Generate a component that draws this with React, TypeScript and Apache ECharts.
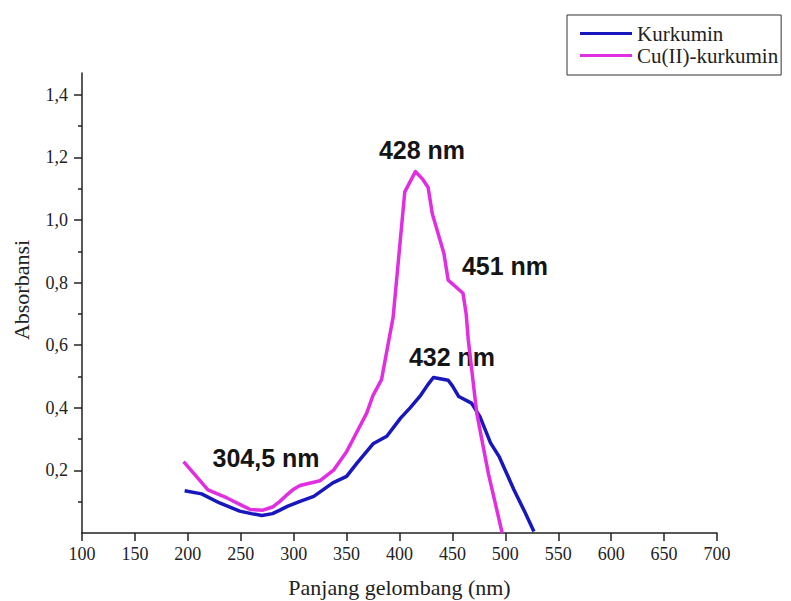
import React, { useEffect, useRef } from "react";
import * as echarts from "echarts";

const seriesNames = ["Kurkumin", "Cu(II)-kurkumin"];

const kurkuminNm = [197, 213, 230, 249, 260, 270, 280, 287, 294, 306, 319, 337, 350, 360, 375, 388, 401, 410, 420, 427, 432, 446, 450, 456, 468, 476, 486, 494, 500, 508, 518, 527];
const kurkuminAbs = [0.135, 0.125, 0.096, 0.07, 0.062, 0.056, 0.062, 0.073, 0.085, 0.101, 0.117, 0.16, 0.181, 0.224, 0.285, 0.309, 0.367, 0.4, 0.44, 0.475, 0.497, 0.488, 0.47, 0.436, 0.415, 0.372, 0.288, 0.245, 0.2, 0.139, 0.07, 0.005];

const cuNm = [196, 207, 219, 237, 250, 259, 271, 280, 287, 293, 300, 306, 325, 338, 350, 357, 369, 375, 383, 394, 405, 415, 422, 427, 431, 442, 446, 452, 460, 463, 465, 473, 484, 497];
const cuAbs = [0.228, 0.185, 0.138, 0.112, 0.09, 0.075, 0.073, 0.083, 0.101, 0.12, 0.14, 0.152, 0.167, 0.202, 0.26, 0.305, 0.383, 0.44, 0.49, 0.69, 1.09, 1.155, 1.13, 1.105, 1.02, 0.893, 0.808, 0.79, 0.766, 0.7, 0.617, 0.383, 0.19, 0.0];

const yMajorTicks = [0.2, 0.4, 0.6, 0.8, 1.0, 1.2, 1.4];
const yMinorTicks = [0.1, 0.3, 0.5, 0.7, 0.9, 1.1, 1.3];

const annotations = ["428 nm", "451 nm", "432 nm", "304,5 nm"];

const SERIF = "'Liberation Serif', 'Times New Roman', serif";
const SANS = "'Liberation Sans', Arial, sans-serif";

export default function App() {
  const ref = useRef<HTMLDivElement>(null);
  useEffect(() => {
    if (!ref.current) return;
    const chart = echarts.init(ref.current, null, { renderer: "svg" });
    const zip = (xs: number[], ys: number[]) => xs.map((x, i) => [x, ys[i]]);
    const axisColor = "#222";
    const annPos = [
      [422, 150],
      [505, 266],
      [452, 357],
      [266, 458],
    ];
    chart.setOption({
      animation: false,
      backgroundColor: "#fff",
      grid: { left: 82, right: 74, top: 73, bottom: 68, containLabel: false, outerBoundsMode: "none" },
      legend: {
        orient: "vertical",
        left: 567,
        top: 15,
        data: seriesNames,
        icon: "rect",
        itemWidth: 52,
        itemHeight: 3,
        itemGap: 1,
        itemStyle: { borderWidth: 0 },
        borderColor: "#333",
        borderWidth: 1,
        padding: [8, 3, 9, 13],
        textStyle: { fontFamily: SERIF, fontSize: 21, lineHeight: 20, color: "#222" },
      },
      xAxis: {
        type: "value",
        min: 100,
        max: 700,
        interval: 50,
        name: "Panjang gelombang (nm)",
        nameLocation: "middle",
        nameGap: 43,
        nameTextStyle: { fontFamily: SERIF, fontSize: 22, lineHeight: 22, color: "#222" },
        axisLine: { show: true, onZero: false, lineStyle: { color: axisColor, width: 1.5 } },
        axisTick: { show: true, length: 8, lineStyle: { color: axisColor, width: 1.5 } },
        axisLabel: { fontFamily: SERIF, fontSize: 18, color: "#222", margin: 12 },
        splitLine: { show: false },
      },
      yAxis: [
        {
          type: "value",
          min: 0,
          max: 1.47,
          axisLine: { show: true, onZero: false, lineStyle: { color: axisColor, width: 1.5 } },
          axisTick: { show: true, length: 8, customValues: yMajorTicks, lineStyle: { color: axisColor, width: 1.5 } },
          axisLabel: {
            fontFamily: SERIF,
            fontSize: 18,
            color: "#222",
            margin: 14,
            customValues: yMajorTicks,
            formatter: (v: number) => v.toFixed(1).replace(".", ","),
          },
          splitLine: { show: false },
        },
        {
          type: "value",
          min: 0,
          max: 1.47,
          position: "left",
          axisLine: { show: false },
          axisTick: { show: true, length: 4, customValues: yMinorTicks, lineStyle: { color: axisColor, width: 1.5 } },
          axisLabel: { show: false },
          splitLine: { show: false },
        },
      ],
      graphic: [
        {
          type: "text",
          x: 21,
          y: 290,
          rotation: Math.PI / 2,
          style: {
            text: "Absorbansi",
            fontFamily: SERIF,
            fontSize: 22,
            fill: "#222",
            align: "center",
            verticalAlign: "middle",
          },
        },
        ...annotations.map((t, i) => ({
          type: "text",
          x: annPos[i][0],
          y: annPos[i][1],
          style: {
            text: t,
            fontFamily: SANS,
            fontWeight: "bold",
            fontSize: 25,
            fill: "#151515",
            align: "center",
            verticalAlign: "middle",
          },
        })),
      ],
      series: [
        {
          name: seriesNames[0],
          type: "line",
          data: zip(kurkuminNm, kurkuminAbs),
          showSymbol: false,
          symbol: "none",
          color: "#1717bd",
          lineStyle: { width: 3.5, color: "#1717bd", join: "round" },
        },
        {
          name: seriesNames[1],
          type: "line",
          data: zip(cuNm, cuAbs),
          showSymbol: false,
          symbol: "none",
          color: "#e02ee0",
          lineStyle: { width: 3.5, color: "#e02ee0", join: "round" },
        },
      ],
    });
    return () => chart.dispose();
  }, []);
  return (
    <div
      ref={ref}
      style={{ position: "absolute", left: 0, top: 0, width: 791, height: 601, background: "#fff" }}
    />
  );
}
